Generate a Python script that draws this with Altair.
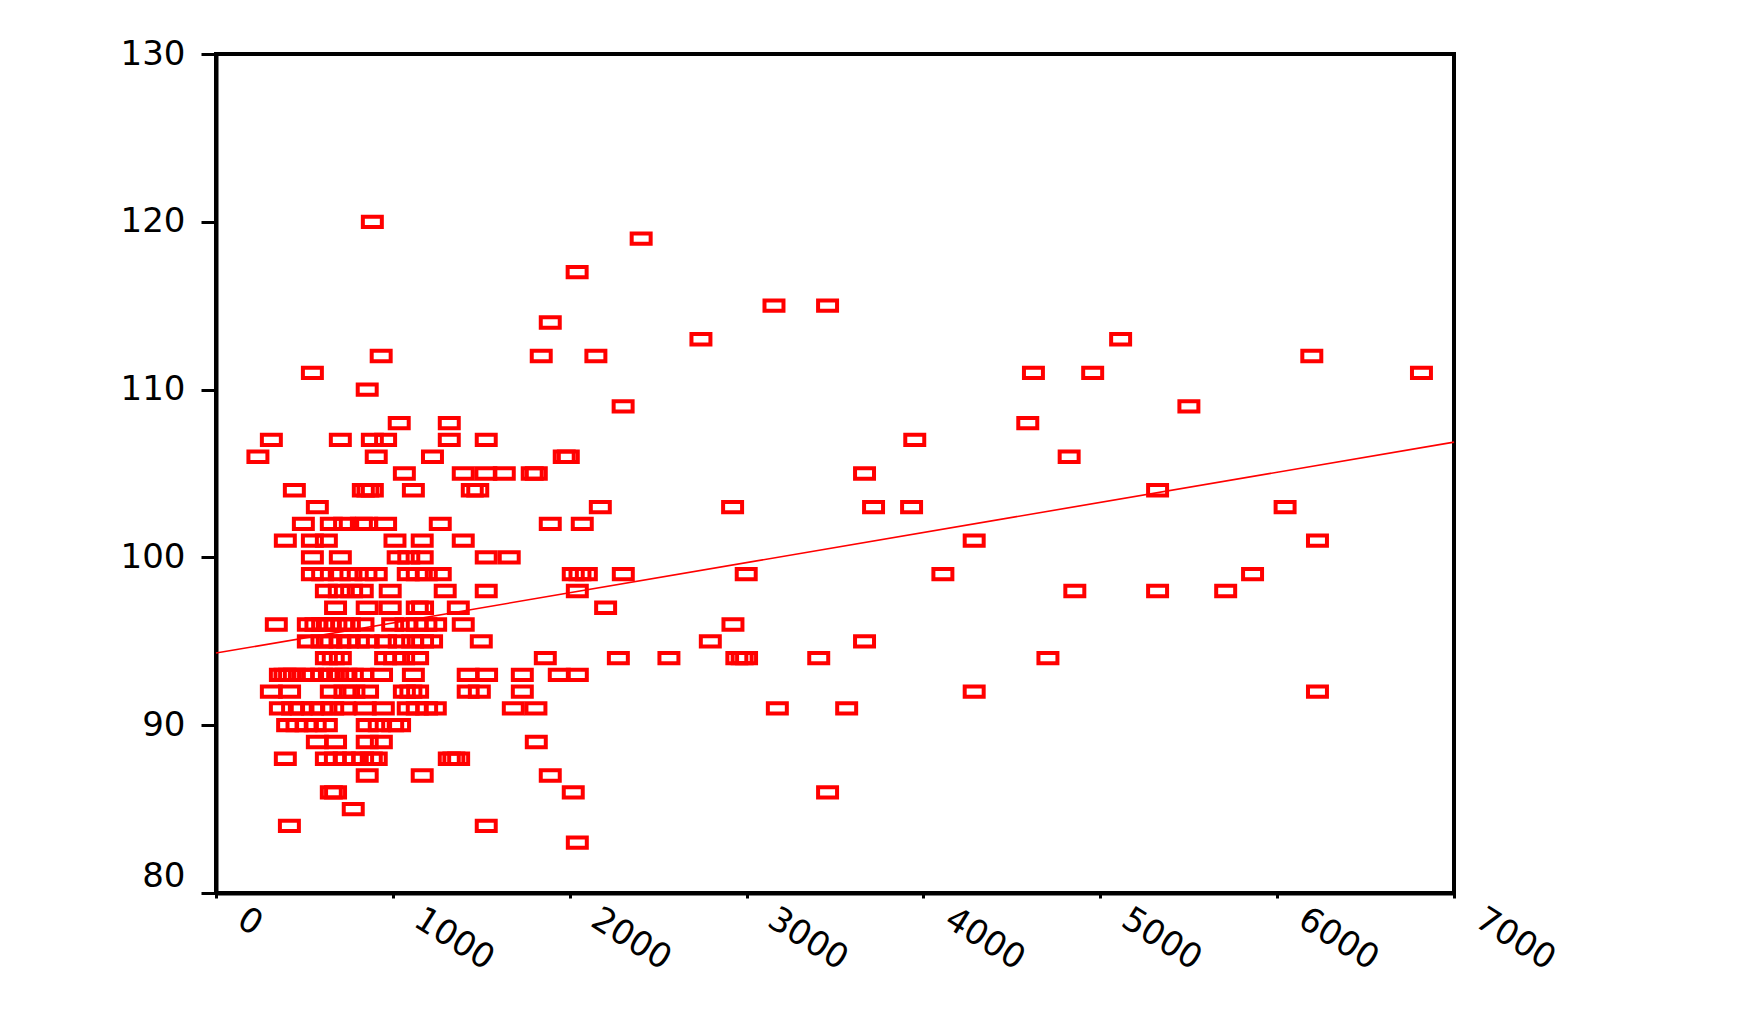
import altair as alt
import pandas as pd

# x values of the points, grouped by their (integer) y value
r120 = [884]
r119 = [2404]
r117 = [2042]
r115 = [3155, 3458]
r114 = [1890]
r113 = [2742, 5115]
r112 = [934, 1839, 2148, 6196]
r111 = [545, 4622, 4957, 6816]
r110 = [855]
r109 = [2302, 5501]
r108 = [1036, 1319, 4590]
r107 = [313, 703, 884, 959, 1319, 1528, 3951]
r106 = [237, 906, 1224, 1969, 1992, 4824]
r105 = [1065, 1398, 1526, 1630, 1788, 1811, 3667]
r104 = [443, 833, 859, 884, 1116, 1449, 1480, 5324]
r103 = [573, 2173, 2921, 3718, 3933, 6045]
r102 = [494, 652, 727, 822, 852, 959, 1268, 1890, 2071]
r101 = [392, 545, 624, 1012, 1166, 1398, 4287, 6228]
r100 = [545, 703, 1030, 1090, 1166, 1528, 1658]
r99 = [545, 603, 697, 763, 848, 906, 1087, 1138, 1189, 1268, 2020, 2058, 2094, 2303, 2998, 4110, 5861]
r98 = [624, 697, 767, 827, 985, 1296, 1528, 2043, 4856, 5324, 5709]
r97 = [676, 855, 985, 1138, 1168, 1370, 2203]
r96 = [341, 522, 565, 603, 641, 678, 716, 754, 831, 999, 1074, 1138, 1187, 1242, 1398, 2923]
r95 = [522, 599, 650, 701, 744, 805, 861, 959, 1036, 1112, 1168, 1219, 1500, 2795, 3667]
r94 = [624, 663, 703, 959, 1010, 1061, 1140, 1862, 2275, 2561, 2945, 2975, 3000, 3408, 4704]
r93 = [364, 390, 416, 443, 494, 546, 597, 641, 688, 735, 771, 831, 936, 1116, 1426, 1530, 1732, 1941, 2043]
r92 = [313, 416, 652, 729, 780, 857, 1065, 1102, 1140, 1426, 1489, 1732, 4287, 6228]
r91 = [364, 433, 482, 546, 599, 660, 729, 844, 946, 1087, 1138, 1191, 1240, 1681, 1809, 3174, 3566]
r90 = [405, 458, 509, 561, 624, 855, 923, 999, 1038]
r89 = [573, 676, 855, 935, 1811]
r88 = [392, 624, 675, 725, 778, 829, 878, 906, 1319, 1345, 1372]
r87 = [855, 1166, 1890]
r86 = [652, 676, 2020, 3458]
r85 = [776]
r84 = [415, 1528]
r83 = [2043]

row_values = [120, 119, 117, 115, 114, 113, 112, 111, 110, 109, 108, 107, 106, 105,
              104, 103, 102, 101, 100, 99, 98, 97, 96, 95, 94, 93, 92, 91, 90, 89,
              88, 87, 86, 85, 84, 83]
row_lists = [r120, r119, r117, r115, r114, r113, r112, r111, r110, r109, r108, r107,
             r106, r105, r104, r103, r102, r101, r100, r99, r98, r97, r96, r95, r94,
             r93, r92, r91, r90, r89, r88, r87, r86, r85, r84, r83]

# fitted line end points
fit_x = [0, 7000]
fit_y = [94.3, 106.87]

x_ticks = [0, 1000, 2000, 3000, 4000, 5000, 6000, 7000]
y_ticks = [80, 90, 100, 110, 120, 130]

pts = pd.DataFrame(
    [{"x": xv, "y": yv} for yv, xs in zip(row_values, row_lists) for xv in xs]
)
fit = pd.DataFrame({"x": fit_x, "y": fit_y})

FONT = "DejaVu Sans"

xscale = alt.Scale(domain=[0, 7000], nice=False, zero=False)
yscale = alt.Scale(domain=[80, 130], nice=False, zero=False)

xaxis = alt.Axis(
    values=x_ticks, title=None, grid=False, format="d", labelAngle=32, labelAlign="left",
    labelBaseline="middle", labelOffset=24, labelPadding=18, labelFont=FONT,
    labelFontSize=34, labelColor="black", labelOverlap=False, labelFlush=False,
    tickSize=5, tickWidth=3, tickColor="black", domainColor="black", domainWidth=4,
)
yaxis = alt.Axis(
    values=y_ticks, title=None, grid=False, format="d", labelFont=FONT, labelFontSize=34,
    labelColor="black", labelPadding=16, labelOverlap=False, labelFlush=False,
    labelBaseline=alt.condition("datum.value == 80", alt.value("bottom"), alt.value("middle")),
    tickSize=15, tickWidth=3, tickColor="black", domainColor="black", domainWidth=4,
)

box = "M-1,-0.545L1,-0.545L1,0.545L-1,0.545Z"

points = alt.Chart(pts).mark_point(
    shape=box, filled=False, size=360, strokeWidth=4, color="#FF0000",
    opacity=1, strokeJoin="miter",
).encode(
    x=alt.X("x:Q", scale=xscale, axis=xaxis),
    y=alt.Y("y:Q", scale=yscale, axis=yaxis),
)

line = alt.Chart(fit).mark_line(color="#FF0000", strokeWidth=1.6).encode(
    x=alt.X("x:Q", scale=xscale),
    y=alt.Y("y:Q", scale=yscale),
)

chart = alt.layer(points, line).properties(
    width=1238, height=839,
    autosize=alt.AutoSizeParams(type="none"),
    padding={"left": 208, "top": 46, "right": 292, "bottom": 114},
    background="white",
).configure_view(stroke="black", strokeWidth=4)

chart.save("out.html", embed_options={"renderer": "svg", "actions": False})
